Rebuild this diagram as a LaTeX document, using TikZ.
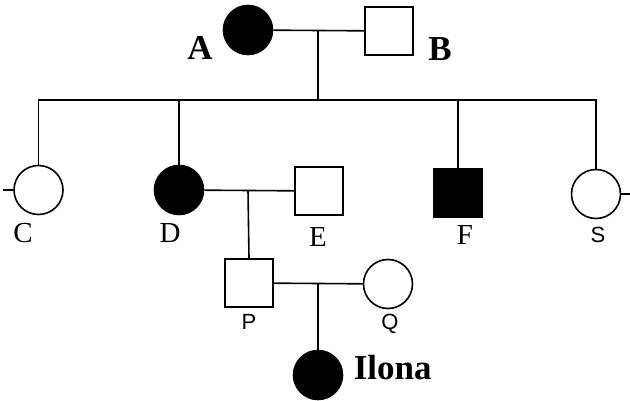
\documentclass[tikz,border=0pt]{standalone}
\usepackage{fontspec}
\setmainfont{Liberation Serif}
\newfontfamily\labelsans{Liberation Sans}
\begin{document}
\begin{tikzpicture}[x=1pt,y=-1pt,
  line width=1.6pt,
  female/.style={circle,draw,minimum size=49pt,inner sep=0pt},
  male/.style={rectangle,draw,minimum size=48pt,inner sep=0pt},
  affected/.style={fill=black},
  bigname/.style={font=\fontsize{35}{35}\selectfont\bfseries,inner sep=0pt,anchor=base},
  plainname/.style={font=\fontsize{29}{29}\selectfont,inner sep=0pt,anchor=base},
  smallname/.style={font=\labelsans\fontsize{22}{22}\selectfont,inner sep=0pt,anchor=base}]
\useasboundingbox (0,0) rectangle (630,401);

% first generation
\node[female,affected] (A) at (248,30) {};
\node[male] (B) at (389,31) {};
\coordinate (ab) at (318,31);
\coordinate (sib) at (318,100);

% second generation
\node[female] (C) at (38.5,190) {};
\node[female,affected] (D) at (179,190) {};
\node[male] (E) at (319,191) {};
\node[male,affected] (F) at (458,193) {};
\node[female] (S) at (596,194) {};
\coordinate (de) at (248,190);

% third generation
\node[male] (P) at (249,283) {};
\node[female] (Q) at (388,284) {};
\coordinate (pq) at (318,283);

% fourth generation
\node[female,affected] (I) at (318,375) {};

% marriage and descent lines
\draw (A) -- (B);
\draw (ab) -- (sib);
\draw (C.north) -- (C.north |- sib) -- (S.north |- sib) -- (S.north);
\draw (D.north) -- (D.north |- sib);
\draw (F.north) -- (F.north |- sib);
\draw (C.west) -- ++(-10,0);
\draw (S.east) -- ++(10,0);
\draw (D) -- (E);
\draw (de) -- (P.north);
\draw (P) -- (Q);
\draw (pq) -- (I.north);

% names
\node[bigname] (lA) at (200,60) {A};
\node[bigname] (lB) at (440,61) {B};
\node[plainname] (lC) at (23,243) {C};
\node[plainname] (lD) at (170,243) {D};
\node[plainname] (lE) at (318,247) {E};
\node[plainname] (lF) at (465,245) {F};
\node[smallname] (lS) at (598,243) {S};
\node[smallname] (lP) at (249,329) {P};
\node[smallname] (lQ) at (390,329) {Q};
\node[bigname,anchor=base west] (lI) at (353,379) {Ilona};
\end{tikzpicture}
\end{document}
